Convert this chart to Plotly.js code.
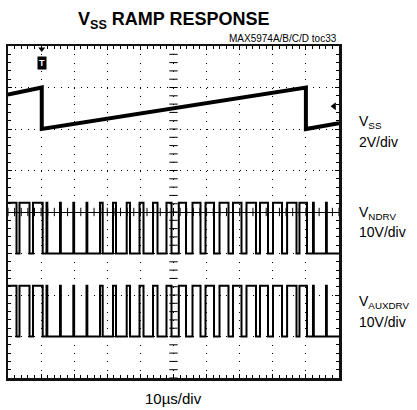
<!DOCTYPE html>
<html><head><meta charset="utf-8">
<script src="https://cdn.plot.ly/plotly-3.0.1.min.js"></script>
<style>body{margin:0;background:#fff}</style>
</head><body><div id="chart" style="width:417px;height:410px"></div>
<script>
// time axis in µs (10 µs/div, 10 divisions); amplitude in screen divisions (0 = centre, ±4)
const vssTime  = [0, 10.2, 10.2, 90.0, 90.0, 100];
const vssLevel = [2.83, 3.0, 2.0, 3.0, 2.0, 2.14];

// switching edges (µs)
const ndrvRise = [0, 3.47, 7.55, 11.63, 15.71, 19.73, 23.72, 27.79, 31.72, 35.86, 39.73, 43.81, 47.88, 51.6, 55.74, 59.67, 63.90, 67.97, 72.05, 76.13, 80.06, 84.32, 88.06, 92.14, 96.07];
const ndrvFall = [2.57, 6.50, 10.48, 11.88, 15.96, 19.98, 23.97, 28.61, 32.63, 36.86, 40.94, 45.17, 49.40, 53.78, 58.16, 62.24, 66.61, 70.54, 74.92, 78.55, 82.78, 87.16, 90.33, 92.39, 96.32];
const ndrvHigh = 0.22, ndrvLow = -1.0;

const auxRise = [0, 3.47, 7.55, 11.63, 15.71, 19.73, 23.72, 27.79, 31.72, 35.86, 39.73, 43.81, 47.88, 51.6, 55.74, 59.67, 63.90, 67.97, 72.05, 76.13, 80.06, 84.32, 88.06, 92.14, 96.07];
const auxFall = [2.57, 6.50, 10.48, 11.88, 15.96, 19.98, 23.97, 28.61, 32.63, 36.86, 40.94, 45.17, 49.40, 53.78, 58.16, 62.24, 66.61, 70.54, 74.92, 78.55, 82.78, 87.16, 90.33, 92.39, 96.32];
const auxHigh = -1.78, auxLow = -3.0;

const channelNames = ["V<sub>SS</sub>", "V<sub>NDRV</sub>", "V<sub>AUXDRV</sub>"];
const channelScales = ["2V/div", "10V/div", "10V/div"];
const channelLabelY = [2.16, -0.02, -2.17];
const timeScale = "10µs/div";
const chartTitle = "<b>V<sub>SS</sub> RAMP RESPONSE</b>";
const figNote = "MAX5974A/B/C/D toc33";
const triggerTime = 10.2;
const groundMarker = {t: 98.5, v: 2.55};

function squareWave(rise, fall, hi, lo, tEnd) {
  const x = [], y = [];
  for (let i = 0; i < rise.length; i++) {
    x.push(rise[i]); y.push(hi);
    x.push(fall[i]); y.push(lo);
  }
  x.push(tEnd); y.push(lo);
  return {x, y};
}

const nd = squareWave(ndrvRise, ndrvFall, ndrvHigh, ndrvLow, 100);
const ax = squareWave(auxRise, auxFall, auxHigh, auxLow, 100);

// graticule centre-line tick marks
const cx = [], cy = [], vx = [], vy = [];
for (let t = 0; t <= 100; t += 2) { cx.push(t); cy.push(0); }
for (let v = -4; v <= 4.001; v += 0.2) { vx.push(50); vy.push(v); }

const traces = [
  {x: cx, y: cy, mode: 'markers', marker: {symbol: 'line-ns', size: 6, line: {width: 1, color: '#000'}}, hoverinfo: 'skip'},
  {x: vx, y: vy, mode: 'markers', marker: {symbol: 'line-ew', size: 6, line: {width: 1, color: '#000'}}, hoverinfo: 'skip'},
  {x: vssTime, y: vssLevel, mode: 'lines', line: {color: '#000', width: 4}},
  {x: nd.x, y: nd.y, mode: 'lines', line: {color: '#000', width: 2, shape: 'hv'}},
  {x: ax.x, y: ax.y, mode: 'lines', line: {color: '#000', width: 2, shape: 'hv'}},
  {x: [groundMarker.t], y: [groundMarker.v], mode: 'markers', marker: {symbol: 'triangle-left', size: 7, color: '#000'}, cliponaxis: false},
  {x: [triggerTime], y: [3.93], mode: 'markers', marker: {symbol: 'triangle-down', size: 6, color: '#000'}, cliponaxis: false}
];

const F = 'Liberation Sans, Arial, sans-serif';
const annotations = [
  {xref: 'paper', yref: 'paper', x: 0.5, y: 1.0 + 25/332, xanchor: 'center', yanchor: 'middle', showarrow: false,
   text: chartTitle, font: {family: F, size: 18, color: '#000'}},
  {xref: 'paper', yref: 'paper', x: 1.0, y: 1.0 + 7/332, xanchor: 'right', yanchor: 'middle', showarrow: false,
   text: figNote, font: {family: F, size: 10, color: '#000'}},
  {xref: 'paper', yref: 'paper', x: 0.5, y: -20/332, xanchor: 'center', yanchor: 'middle', showarrow: false,
   text: timeScale, font: {family: F, size: 15, color: '#000'}},
  {xref: 'x', yref: 'y', x: triggerTime, y: 3.6, xanchor: 'center', yanchor: 'middle', showarrow: false,
   text: '<b>T</b>', bgcolor: '#000', borderpad: 1, font: {family: F, size: 9, color: '#fff'}}
];
for (let i = 0; i < channelNames.length; i++) {
  annotations.push({xref: 'paper', yref: 'y', x: (357 - 8) / 331, y: channelLabelY[i], xanchor: 'left', yanchor: 'middle',
    showarrow: false, align: 'left', text: channelNames[i], font: {family: F, size: 14, color: '#000'}});
  annotations.push({xref: 'paper', yref: 'y', x: (357 - 8) / 331, y: channelLabelY[i] - 0.47, xanchor: 'left', yanchor: 'middle',
    showarrow: false, align: 'left', text: channelScales[i], font: {family: F, size: 14, color: '#000'}});
}

const layout = {
  width: 417, height: 410,
  margin: {l: 8, r: 78, t: 46, b: 32},
  paper_bgcolor: '#fff', plot_bgcolor: '#fff',
  showlegend: false,
  font: {family: F, color: '#000'},
  xaxis: {range: [0, 100], dtick: 10, tick0: 0, showgrid: true, gridcolor: '#000', gridwidth: 1, griddash: '1px,7.3px',
    showticklabels: false, zeroline: false, showline: true, linecolor: '#111', linewidth: 2.5, mirror: 'allticks',
    ticks: 'inside', ticklen: 4, tickcolor: '#000', tickwidth: 1,
    minor: {dtick: 2, ticks: 'inside', ticklen: 3, tickcolor: '#000', tickwidth: 1, showgrid: false},
    fixedrange: true},
  yaxis: {range: [-4, 4], dtick: 1, tick0: 0, showgrid: true, gridcolor: '#000', gridwidth: 1, griddash: '1px,5.62px',
    showticklabels: false, zeroline: true, zerolinecolor: '#000', zerolinewidth: 1,
    showline: true, linecolor: '#111', linewidth: 2.5, mirror: 'allticks',
    ticks: 'inside', ticklen: 4, tickcolor: '#000', tickwidth: 1,
    minor: {dtick: 0.2, ticks: 'inside', ticklen: 3, tickcolor: '#000', tickwidth: 1, showgrid: false},
    fixedrange: true},
  annotations: annotations
};

Plotly.newPlot('chart', traces, layout, {staticPlot: true, displayModeBar: false});
</script></body></html>
